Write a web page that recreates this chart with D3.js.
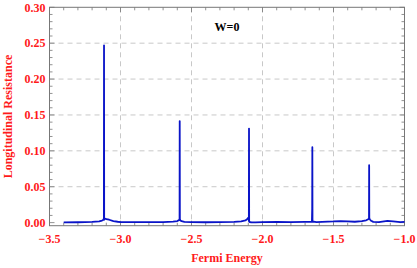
<!DOCTYPE html>
<html><head><meta charset="utf-8">
<script src="https://cdn.jsdelivr.net/npm/d3@7"></script>
<style>body{margin:0;background:#fff}svg{display:block}</style>
</head><body>
<script>
const energy = [-3.40,-3.30,-3.20,-3.15,-3.13,-3.120,-3.117,-3.116,-3.115,-3.113,-3.110,-3.100,-3.08,-3.05,-3.02,-3.00,-2.90,-2.80,-2.70,-2.63,-2.60,-2.588,-2.584,-2.583,-2.582,-2.578,-2.570,-2.55,-2.50,-2.40,-2.30,-2.20,-2.15,-2.12,-2.105,-2.099,-2.096,-2.095,-2.094,-2.090,-2.080,-2.05,-2.00,-1.90,-1.80,-1.70,-1.66,-1.652,-1.650,-1.649,-1.648,-1.646,-1.640,-1.62,-1.58,-1.50,-1.45,-1.40,-1.35,-1.30,-1.27,-1.255,-1.250,-1.249,-1.248,-1.246,-1.242,-1.235,-1.22,-1.18,-1.12,-1.08,-1.03,-1.00];
const resistance = [0.0003,0.0005,0.0010,0.0018,0.0028,0.0040,0.0060,0.2470,0.0040,0.0050,0.0055,0.0050,0.0040,0.0022,0.0012,0.0008,0.0006,0.0006,0.0008,0.0014,0.0022,0.0035,0.0050,0.1415,0.0050,0.0030,0.0020,0.0010,0.0006,0.0005,0.0006,0.0009,0.0016,0.0030,0.0055,0.0070,0.0020,0.1310,0.0015,0.0008,0.0005,0.0004,0.0006,0.0010,0.0008,0.0009,0.0010,0.0012,0.0200,0.1050,0.0020,0.0010,0.0015,0.0008,0.0010,0.0016,0.0022,0.0018,0.0012,0.0020,0.0032,0.0048,0.0060,0.0800,0.0070,0.0050,0.0040,0.0025,0.0010,0.0008,0.0024,0.0018,0.0008,0.0010];
const xTicks = [-3.5,-3.0,-2.5,-2.0,-1.5,-1.0];
const yTicks = [0.00,0.05,0.10,0.15,0.20,0.25,0.30];
const title = "W=0", xLabel = "Fermi Energy", yLabel = "Longitudinal Resistance";

const W = 417, H = 268;
const m = {l:49.5, r:12.5, t:7.3, b:42.3};
const svg = d3.select("body").append("svg").attr("width",W).attr("height",H);
const x = d3.scaleLinear().domain([-3.5,-1.0]).range([m.l, W-m.r]);
const y = d3.scaleLinear().domain([-0.0043,0.30]).range([H-m.b, m.t]);
const font = "'Liberation Serif','Times New Roman',serif";
const red = "#ff1a1a";

// grid
svg.append("g").selectAll("line").data(xTicks.slice(1,-1)).join("line")
  .attr("x1",d=>x(d)).attr("x2",d=>x(d)).attr("y1",m.t).attr("y2",H-m.b)
  .attr("stroke","#c8c8c8").attr("stroke-width",1).attr("stroke-dasharray","5,4");
svg.append("g").selectAll("line").data(yTicks.slice(1,-1)).join("line")
  .attr("y1",d=>y(d)).attr("y2",d=>y(d)).attr("x1",m.l).attr("x2",W-m.r)
  .attr("stroke","#c8c8c8").attr("stroke-width",1).attr("stroke-dasharray","5,4");

// frame
svg.append("rect").attr("x",m.l).attr("y",m.t).attr("width",W-m.l-m.r).attr("height",H-m.t-m.b)
  .attr("fill","none").attr("stroke","#777").attr("stroke-width",1);

// minor/major ticks (inside) on all four sides
const xMinor = d3.range(-3.5,-0.99,0.1);
const yMinor = d3.range(0,0.3001,0.01);
const tk = svg.append("g").attr("stroke","#777").attr("stroke-width",0.8);
xMinor.forEach((v,i)=>{
  const len = (i%5===0)?5:3;
  tk.append("line").attr("x1",x(v)).attr("x2",x(v)).attr("y1",H-m.b).attr("y2",H-m.b-len);
  tk.append("line").attr("x1",x(v)).attr("x2",x(v)).attr("y1",m.t).attr("y2",m.t+len);
});
yMinor.forEach((v,i)=>{
  const len = (i%5===0)?5:3;
  tk.append("line").attr("y1",y(v)).attr("y2",y(v)).attr("x1",m.l).attr("x2",m.l+len);
  tk.append("line").attr("y1",y(v)).attr("y2",y(v)).attr("x1",W-m.r).attr("x2",W-m.r-len);
});

// tick labels
svg.append("g").selectAll("text").data(xTicks).join("text")
  .attr("x",d=>x(d)).attr("y",H-m.b+17.5).attr("text-anchor","middle")
  .attr("font-family",font).attr("font-weight","bold").attr("font-size",12).attr("fill",red)
  .text(d=>"\u2212"+Math.abs(d).toFixed(1));
svg.append("g").selectAll("text").data(yTicks).join("text")
  .attr("x",m.l-4).attr("y",d=>y(d)+4.2).attr("text-anchor","end")
  .attr("font-family",font).attr("font-weight","bold").attr("font-size",12).attr("fill",red)
  .text(d=>d.toFixed(2));

// axis labels
svg.append("text").attr("x",(m.l+W-m.r)/2).attr("y",H-6).attr("text-anchor","middle")
  .attr("font-family",font).attr("font-weight","bold").attr("font-size",12).attr("fill",red).text(xLabel);
svg.append("text").attr("transform",`translate(11.5,${(m.t+H-m.b)/2}) rotate(-90)`).attr("text-anchor","middle")
  .attr("font-family",font).attr("font-weight","bold").attr("font-size",12).attr("fill",red).text(yLabel);
svg.append("text").attr("x",x(-2.25)).attr("y",y(0.2735)+4.2).attr("text-anchor","middle")
  .attr("font-family",font).attr("font-weight","bold").attr("font-size",12).attr("fill","#000").text(title);

// data line
const data = energy.map((e,i)=>[e,resistance[i]]);
svg.append("path").datum(data)
  .attr("d",d3.line().x(d=>x(d[0])).y(d=>y(d[1])))
  .attr("fill","none").attr("stroke","#0a14c8").attr("stroke-width",1.8).attr("stroke-linejoin","round");
</script>
</body></html>
